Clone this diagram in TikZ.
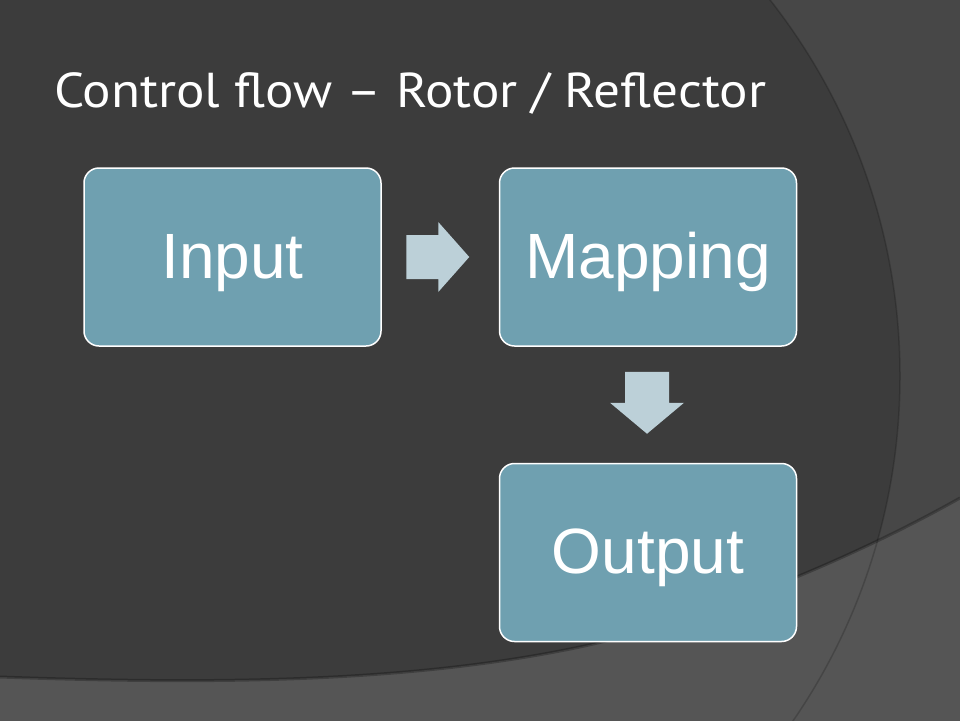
\documentclass[tikz,border=0pt]{standalone}
\usepackage{fontspec}
\setmainfont{Liberation Sans}
\newfontfamily\titlefont{PT Sans}
\usetikzlibrary{calc}
\definecolor{bgdark}{HTML}{3C3C3C}
\definecolor{bgmid}{HTML}{474747}
\definecolor{bglight}{HTML}{555555}
\definecolor{boxfill}{HTML}{6FA0B0}
\definecolor{arrowfill}{HTML}{BCD0D8}
\begin{document}
\begin{tikzpicture}[x=1pt,y=-1pt,
  flowbox/.style={draw=white, line width=1.5pt, fill=boxfill, rounded corners=15pt,
    minimum width=297pt, minimum height=178pt, text=white,
    font=\fontsize{64}{70}\selectfont, text height=42pt, text depth=0pt, inner sep=0pt},
  blockarrow/.style={fill=arrowfill},
  titletext/.style={anchor=base west, text=white, inner sep=0pt,
    font=\titlefont\fontsize{49}{56}\selectfont}]
\useasboundingbox (0,0) rectangle (960,720);
\begin{scope}
\clip (0,0) rectangle (960,720);
% background
\fill[bgmid] (-5,-5) rectangle (965,725);
\fill[bgdark] (291,376) circle[radius=609];
\fill[bglight] (-5,677) -- (0,677) .. controls (200,684) and (400,684) .. (575,648)
  .. controls (700,622) and (850,560) .. (960,498) -- (965,496) -- (965,725) -- (-5,725) -- cycle;
\draw[black, opacity=.25, line width=3pt] (0,677) .. controls (200,684) and (400,684) .. (575,648)
  .. controls (700,622) and (850,560) .. (960,498);
\draw[black, opacity=.18, line width=1.5pt] (291,376) circle[radius=609];
\end{scope}
% title
\node[titletext] (title) at (54,107) {\scalebox{1.085}[1]{Control flow – Rotor / Reflector}};
% boxes
\node[flowbox] (in) at (232.5,257) {Input};
\node[flowbox] (map) at (648,257) {Mapping};
\node[flowbox] (out) at (648,552.5) {Output};
% arrows
\coordinate (ra) at ($(in.east)!0.5!(map.west)$);
\fill[blockarrow] ($(ra)+(-34,-22)$) -- ($(ra)+(-2,-22)$) -- ($(ra)+(-2,-35)$) -- ($(ra)+(29,0)$)
  -- ($(ra)+(-2,35)$) -- ($(ra)+(-2,22)$) -- ($(ra)+(-34,22)$) -- cycle;
\coordinate (da) at ($(map.south)!0.5!(out.north)$);
\fill[blockarrow] ($(da)+(-23,-33)$) -- ($(da)+(21,-33)$) -- ($(da)+(21,-2)$) -- ($(da)+(36,-2)$)
  -- ($(da)+(-1,29)$) -- ($(da)+(-38,-2)$) -- ($(da)+(-23,-2)$) -- cycle;
\end{tikzpicture}
\end{document}
